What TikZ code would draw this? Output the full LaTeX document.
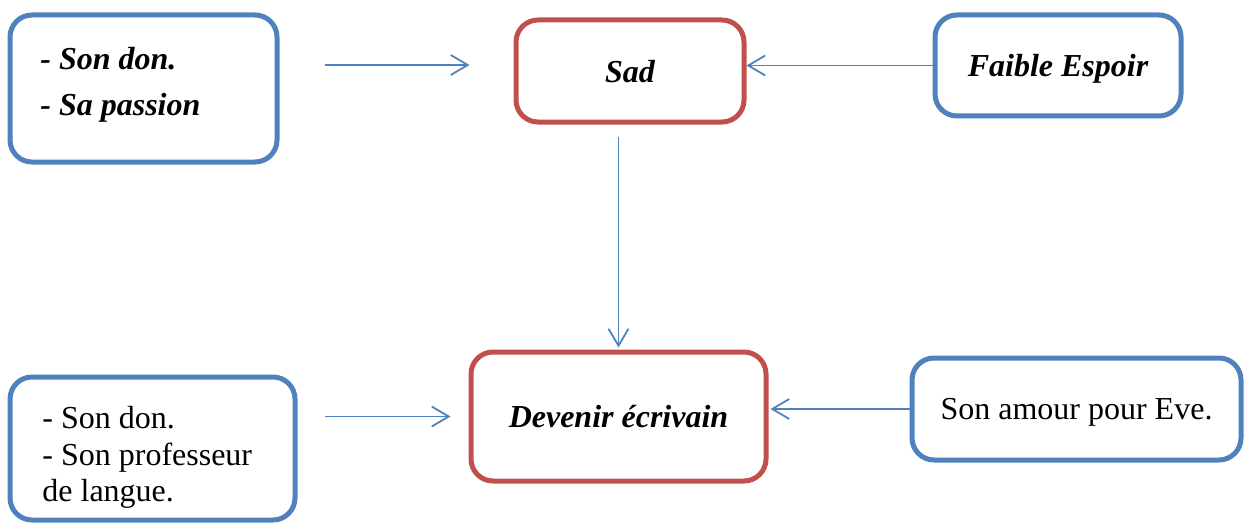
\documentclass[tikz,border=0pt]{standalone}
\usepackage{fontspec}
\setmainfont{Liberation Serif}
\usetikzlibrary{arrows.meta}
\definecolor{boxblue}{HTML}{4F81BD}
\definecolor{boxred}{HTML}{C0504D}
\begin{document}
\begin{tikzpicture}[x=0.5pt,y=-0.5pt,
  every node/.style={font=\fontsize{16}{19}\selectfont},
  box/.style={draw,line width=2.5pt,rounded corners=11pt,inner sep=0pt,text depth=0pt},
  bluebox/.style={box,draw=boxblue},
  redbox/.style={box,draw=boxred},
  strong/.style={font=\fontsize{16}{19}\selectfont\bfseries\itshape},
  conn/.style={draw=boxblue,line width=0.9pt,
    -{Straight Barb[length=8.5pt,width=10pt,line width=0.9pt]}},
  linetext/.style={anchor=base west,inner sep=0pt}]
\useasboundingbox (0,0) rectangle (1246,524);

% boxes
\node[bluebox,minimum width=133.5pt,minimum height=73.5pt] (causes) at (143.5,88.5) {};
\node[redbox,minimum width=114pt,minimum height=51pt,strong] (sad) at (630,71) {Sad};
\node[bluebox,minimum width=123pt,minimum height=50.5pt,strong] (espoir) at (1058,65.5) {Faible Espoir};
\node[redbox,minimum width=147.5pt,minimum height=64.5pt,strong] (devenir) at (618.5,416.5) {Devenir écrivain};
\node[bluebox,minimum width=164.5pt,minimum height=51pt] (amour) at (1076.5,409) {Son amour pour Eve.};
\node[bluebox,minimum width=142.5pt,minimum height=71.5pt] (appuis) at (152.5,448.5) {};

% left-aligned lines inside the left boxes
\node[linetext,strong] (causesA) at (40,70) {- Son don.};
\node[linetext,strong] (causesB) at (40,115) {- Sa passion};
\node[linetext] (appuisA) at (42,428) {- Son don.};
\node[linetext] (appuisB) at (42,465) {- Son professeur};
\node[linetext] (appuisC) at (42,501) {de langue.};

% connectors
\draw[conn,shorten <=22.5pt,shorten >=22pt,transform canvas={yshift=3pt}]
  (sad.west -| causes.east) -- (sad.west);
\draw[conn] (espoir.west) -- (espoir.west -| sad.east);
\draw[conn,shorten <=6pt,shorten >=1pt] (sad.south -| devenir.north) -- (devenir.north);
\draw[conn,shorten <=13.5pt,shorten >=9pt] (devenir.west -| appuis.east) -- (devenir.west);
\draw[conn,shorten >=1pt] (amour.west) -- (amour.west -| devenir.east);
\end{tikzpicture}
\end{document}
